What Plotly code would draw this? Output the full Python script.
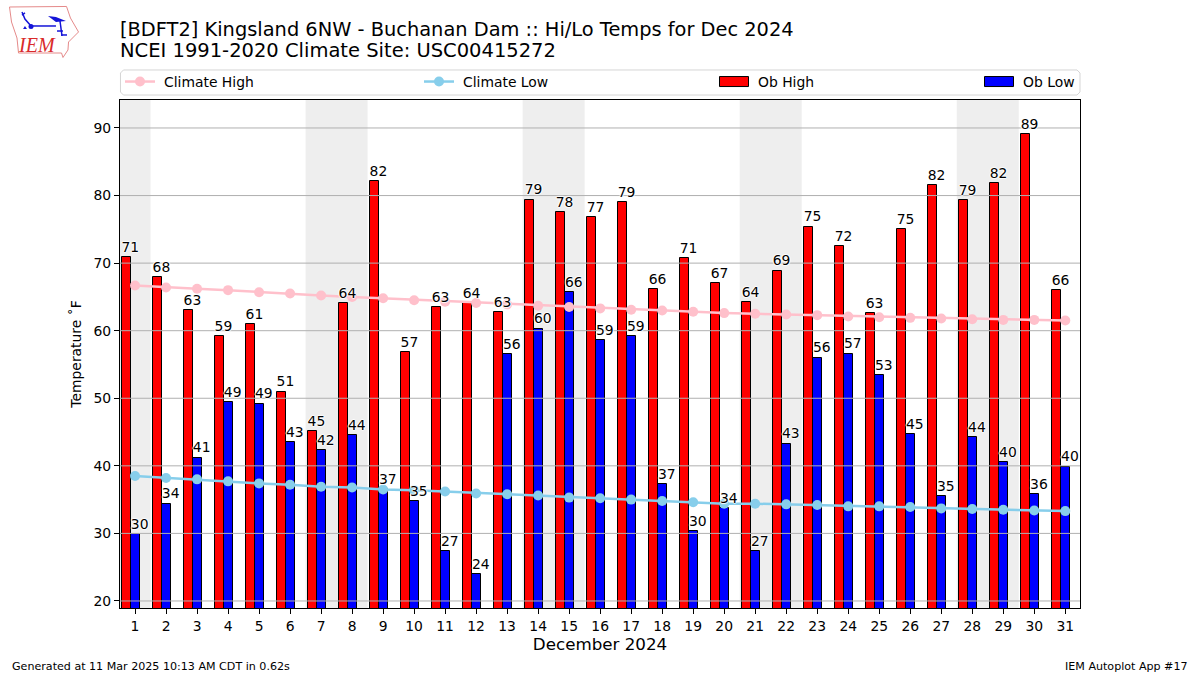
import plotly.graph_objects as go

days = list(range(1, 32))
ob_high = [70.9, 67.9, 63.0, 59.2, 61.0, 51.0, 45.1, 64.1, 82.1, 56.8, 63.5, 64.1, 62.7, 79.4, 77.5, 76.8,
           79.0, 66.1, 70.7, 67.0, 64.2, 68.9, 75.4, 72.5, 62.6, 75.0, 81.5, 79.3, 81.8, 89.1, 66.0]
ob_low = [29.9, 34.4, 41.2, 49.4, 49.2, 43.5, 42.3, 44.5, 36.5, 34.75, 27.35, 23.95, 56.5, 60.3, 65.7, 58.6,
          59.2, 37.3, 30.3, 33.7, 27.35, 43.3, 56.0, 56.6, 53.4, 44.7, 35.5, 44.2, 40.5, 35.8, 39.9]
high_labels = [71, 68, 63, 59, 61, 51, 45, 64, 82, 57, 63, 64, 63, 79, 78, 77,
               79, 66, 71, 67, 64, 69, 75, 72, 63, 75, 82, 79, 82, 89, 66]
low_labels = [30, 34, 41, 49, 49, 43, 42, 44, 37, 35, 27, 24, 56, 60, 66, 59,
              59, 37, 30, 34, 27, 43, 56, 57, 53, 45, 35, 44, 40, 36, 40]
climate_high = [66.7, 66.4, 66.2, 66.0, 65.7, 65.5, 65.2, 65.0, 64.8, 64.5, 64.3, 64.1, 63.9, 63.7, 63.5, 63.3,
                63.1, 63.0, 62.8, 62.6, 62.5, 62.4, 62.3, 62.1, 62.0, 61.9, 61.8, 61.7, 61.6, 61.6, 61.5]
climate_low = [38.5, 38.2, 38.0, 37.7, 37.4, 37.2, 36.9, 36.8, 36.5, 36.4, 36.2, 35.9, 35.8, 35.6, 35.3, 35.2,
               35.0, 34.8, 34.6, 34.4, 34.4, 34.3, 34.2, 34.0, 34.0, 33.9, 33.7, 33.6, 33.5, 33.4, 33.3]
y_ticks = [20, 30, 40, 50, 60, 70, 80, 90]
weekends = [(0.5, 1.5), (6.5, 8.5), (13.5, 15.5), (20.5, 22.5), (27.5, 29.5)]

W, H = 1200, 675
M_L, M_R, M_T, M_B = 120, 120, 100, 67
X_RANGE = [0.515, 31.475]
Y_RANGE = [18.96, 94.14]
FONT = "DejaVu Sans"
HALO = "1px 0 1px #fff, -1px 0 1px #fff, 0 1px 1px #fff, 0 -1px 1px #fff"


def px(x):
    return (x - M_L) / (W - M_L - M_R)


def py(y):
    return (H - M_B - y) / (H - M_T - M_B)


def path(points, close=True):
    s = "M " + " L ".join(f"{px(a):.4f},{py(b):.4f}" for a, b in points)
    return s + (" Z" if close else "")


fig = go.Figure()

# bars
fig.add_trace(go.Bar(x=days, y=ob_high, offset=-0.43, width=0.3, name="Ob High", legend="legend3",
                     marker=dict(color="#ff0000", line=dict(color="black", width=1))))
fig.add_trace(go.Bar(x=days, y=ob_low, offset=-0.13, width=0.29, name="Ob Low", legend="legend4",
                     marker=dict(color="#0000ff", line=dict(color="black", width=1))))

# grid sits above the bars in the reference
grid_x, grid_y = [], []
for t in y_ticks:
    grid_x += [X_RANGE[0], X_RANGE[1], None]
    grid_y += [t, t, None]
fig.add_trace(go.Scatter(x=grid_x, y=grid_y, mode="lines", showlegend=False, hoverinfo="skip",
                         line=dict(color="#b0b0b0", width=1)))

# climate
fig.add_trace(go.Scatter(x=days, y=climate_high, mode="lines+markers", name="Climate High", legend="legend",
                         line=dict(color="#ffc0cb", width=2.5), marker=dict(color="#ffc0cb", size=10)))
fig.add_trace(go.Scatter(x=days, y=climate_low, mode="lines+markers", name="Climate Low", legend="legend2",
                         line=dict(color="#87ceeb", width=2.5), marker=dict(color="#87ceeb", size=10)))

# value labels (the invisible marker only lifts the text off the bar top)
for vals, labs, dx in ((ob_high, high_labels, -0.15), (ob_low, low_labels, 0.15)):
    fig.add_trace(go.Scatter(x=[d + dx for d in days], y=vals, mode="markers+text", text=[str(v) for v in labs],
                             textposition="top center", showlegend=False, hoverinfo="skip", cliponaxis=False,
                             marker=dict(size=1.2, opacity=0),
                             textfont=dict(family=FONT, size=13.9, color="black", shadow=HALO)))

shapes = [dict(type="rect", xref="x", yref="y domain", x0=a, x1=b, y0=0, y1=1, layer="below",
               fillcolor="#eeeeee", line=dict(width=0)) for a, b in weekends]

# legend frame
L, R, T, B, r = 120.5, 1080, 70, 95, 3
shapes.append(dict(type="path", xref="paper", yref="paper", layer="below",
                   path=path([(L + r, T), (R - r, T), (R, T + r), (R, B - r), (R - r, B), (L + r, B), (L, B - r), (L, T + r)]),
                   line=dict(color="#d5d5d5", width=1), fillcolor="white"))

# logo: outline of Iowa and a small station glyph
iowa = [(9.5, 7), (66.5, 6.5), (70.5, 18), (78.5, 32), (68.5, 42), (68, 50), (63, 57.5), (61.5, 53), (18.5, 53),
        (17, 38), (11.5, 22)]
shapes.append(dict(type="path", xref="paper", yref="paper", path=path(iowa), line=dict(color="#e58a8a", width=1)))
blue = dict(color="#1414d8", width=1.5)
for seg in ([(22, 12), (25, 19), (31, 26)], [(31, 26), (56, 26)], [(60, 21), (62, 36)], [(22, 15), (25, 13)]):
    shapes.append(dict(type="path", xref="paper", yref="paper", path=path(seg, close=False), line=blue))
shapes.append(dict(type="path", xref="paper", yref="paper", path=path([(48, 16), (56, 17), (66, 21), (56, 22)]),
                   line=dict(width=0), fillcolor="#1414d8"))
shapes.append(dict(type="path", xref="paper", yref="paper", path=path([(23, 29), (25, 26), (27, 29)]),
                   line=dict(width=0), fillcolor="#1414d8"))
shapes.append(dict(type="circle", xref="paper", yref="paper", x0=px(28.5), x1=px(33.5), y0=py(29), y1=py(24),
                   line=dict(width=0), fillcolor="#1414d8"))
for a, b in ((57, 31), (61, 35)):
    shapes.append(dict(type="path", xref="paper", yref="paper", path=path([(a, b), (a + 6, b)], close=False), line=blue))

annotations = [
    dict(text="<i>IEM</i>", xref="paper", yref="paper", x=px(37), y=py(45), showarrow=False, xanchor="center", yanchor="middle",
         font=dict(family="Liberation Serif", size=20, color="#d92a2a")),
    dict(text="NCEI 1991-2020 Climate Site: USC00415272", xref="paper", yref="paper", x=px(120), y=py(51),
         showarrow=False, xanchor="left", yanchor="middle", borderpad=0, xshift=-1,
         font=dict(family=FONT, size=19.5, color="black")),
    dict(text="Generated at 11 Mar 2025 10:13 AM CDT in 0.62s", xref="paper", yref="paper", x=px(12), y=py(666),
         showarrow=False, xanchor="left", yanchor="middle", borderpad=0, xshift=-1,
         font=dict(family=FONT, size=11.1, color="black")),
    dict(text="IEM Autoplot App #17", xref="paper", yref="paper", x=px(1188), y=py(666),
         showarrow=False, xanchor="right", yanchor="middle", borderpad=0, xshift=1,
         font=dict(family=FONT, size=11.1, color="black")),
]


def legend_at(x):
    return dict(x=px(x), y=py(82), xanchor="left", yanchor="middle", bgcolor="rgba(0,0,0,0)",
                font=dict(family=FONT, size=13.9, color="black"), itemwidth=30, borderwidth=0,
                itemclick=False, itemdoubleclick=False)


fig.update_layout(
    width=W, height=H, autosize=False, margin=dict(l=M_L, r=M_R, t=M_T, b=M_B, pad=0),
    paper_bgcolor="white", plot_bgcolor="rgba(0,0,0,0)", barmode="overlay", bargap=0,
    font=dict(family=FONT, size=13.9, color="black"), showlegend=True, hovermode=False,
    title=dict(text="[BDFT2] Kingsland 6NW - Buchanan Dam :: Hi/Lo Temps for Dec 2024", x=120 / W, xanchor="left",
               xref="container", y=1 - 29 / H, yanchor="middle", yref="container", pad=dict(l=0, r=0, t=0, b=0),
               font=dict(family=FONT, size=19.4, color="black")),
    legend=legend_at(120), legend2=legend_at(419), legend3=legend_at(714), legend4=legend_at(979),
    xaxis=dict(range=X_RANGE, tickmode="array", tickvals=days, ticktext=[str(d) for d in days], ticks="outside",
               ticklen=5, tickwidth=1, tickcolor="black", showgrid=False, zeroline=False, showline=True, mirror=True,
               linecolor="black", linewidth=1, tickfont=dict(family=FONT, size=13.9),
               title=dict(text="December 2024", font=dict(family=FONT, size=16.7), standoff=5)),
    yaxis=dict(range=Y_RANGE, tickmode="array", tickvals=y_ticks, ticks="outside", ticklen=5, tickwidth=1,
               tickcolor="black", showgrid=False, zeroline=False, showline=True, mirror=True, linecolor="black",
               linewidth=1, tickfont=dict(family=FONT, size=13.9),
               title=dict(text="Temperature ˚F", font=dict(family=FONT, size=13.9), standoff=8)),
    shapes=shapes, annotations=annotations,
)

POST = """
document.body.style.margin = '0';
var gd = document.getElementById('{plot_id}');
function fixLegend() {
  document.querySelectorAll('.legendpoints path').forEach(function (p) {
    var d = p.getAttribute('d') || '';
    if (d.indexOf('M6,6') === 0) { p.setAttribute('d', 'M14.5,5H-14.5V-5H14.5Z'); }
  });
  document.querySelectorAll('.traces text').forEach(function (t) {
    t.setAttribute('x', '44');
    t.querySelectorAll('tspan[x]').forEach(function (s) { s.setAttribute('x', '44'); });
  });
  document.querySelectorAll('.scrollbox').forEach(function (s) { s.removeAttribute('clip-path'); });
}
fixLegend();
gd.on('plotly_afterplot', fixLegend);
setTimeout(fixLegend, 50);
setTimeout(fixLegend, 300);
"""
fig.write_html("out.html", config={"displayModeBar": False}, post_script=POST)
